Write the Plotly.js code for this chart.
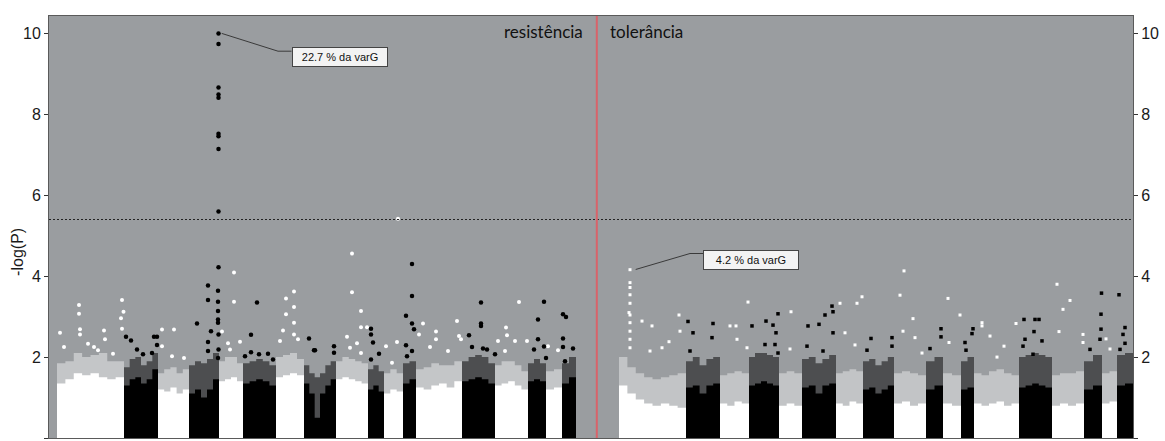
<!DOCTYPE html>
<html>
<head>
<meta charset="utf-8">
<script src="https://cdn.plot.ly/plotly-3.0.1.min.js"></script>
<style>html,body{margin:0;padding:0;background:#fff;}#chart{width:1165px;height:441px;}</style>
</head>
<body>
<div id="chart"></div>
<script>
// ---- chromosome boundaries (cumulative marker position) ----
const leftBounds  = [57,124,158,189,219,243,276,304,336,368,384,403,416,462,495,528,546,562,576];
const rightBounds = [619,686,720,749,779,802,836,863,894,926,943,961,974,1019,1052,1084,1102,1117,1133];

// dense core heights (-log P) sampled across each chromosome
const leftCore = [
  [1.35,1.45,1.6,1.55,1.6,1.5,1.45,1.5],[1.3,1.45,1.5,1.35,1.45,1.7],[1.2,1.15,1.25,1.1,1.2],
  [1.1,1.2,1.0,1.2,1.45],[1.4,1.45,1.5,1.4],[1.35,1.4,1.45,1.4,1.3],[1.5,1.55,1.6,1.55],
  [1.35,1.1,0.5,1.1,1.3,1.45],[1.45,1.5,1.45,1.4,1.35],[1.2,1.3,1.15],[1.1,1.2,1.15],[1.35,1.45],
  [1.25,1.2,1.3,1.35,1.25,1.4],[1.4,1.45,1.5,1.45,1.35],[1.3,1.35,1.4,1.3,1.2],[1.4,1.45,1.4],
  [1.2,1.25],[1.35,1.5]
];
const leftHalo = [
  [1.85,1.9,2.1,2.0,2.05,2.1,1.9,1.9],[1.75,1.95,2.0,1.8,1.9,2.1],[1.6,1.7,1.75,1.6,1.7],
  [1.8,1.9,1.85,1.95,2.1],[1.9,2.0,2.0,1.85],[1.85,1.9,1.95,1.9,1.8],[2.0,2.05,2.1,1.95],
  [1.8,1.6,1.5,1.6,1.8,1.9],[1.9,2.0,1.95,1.9,1.85],[1.7,1.8,1.65],[1.6,1.7,1.6],[1.85,1.9],
  [1.7,1.75,1.85,1.8,1.8,1.9],[1.9,2.0,2.05,2.0,1.85],[1.8,1.9,1.9,1.8,1.65],[1.85,1.95,1.85],
  [1.65,1.7],[1.85,2.0]
];
const rightCore = [
  [1.3,1.1,0.95,0.85,0.8,0.85,0.8,0.75],[1.25,1.3,1.1,1.3,1.35],[0.85,0.8,0.9,0.85],
  [1.3,1.35,1.4,1.35,1.3],[0.8,0.85,0.8],[1.25,1.3,1.1,1.3,1.35],[0.85,0.8,0.9,0.85],
  [1.2,1.25,1.1,1.2,1.3],[0.85,0.9,0.8,0.85],[1.2,1.3],[0.85,0.8],[1.2,1.25],
  [0.85,0.8,0.85,0.9,0.8,0.85],[1.25,1.3,1.35,1.3,1.25],[0.8,0.85,0.8,0.85],[1.2,1.3],
  [0.85,0.9],[1.3,1.35]
];
const rightHalo = [
  [2.0,1.75,1.6,1.5,1.45,1.5,1.55,1.6],[1.9,2.0,1.8,1.95,2.0],[1.55,1.6,1.65,1.6],
  [2.0,2.1,2.1,2.05,2.0],[1.6,1.65,1.6],[1.95,2.0,1.85,1.95,2.05],[1.6,1.65,1.7,1.65],
  [1.9,1.95,1.8,1.9,2.0],[1.6,1.65,1.6,1.55],[1.9,2.0],[1.6,1.55],[1.9,2.0],
  [1.6,1.55,1.65,1.7,1.6,1.55],[2.0,2.05,2.1,2.05,2.0],[1.55,1.6,1.6,1.65],[1.9,2.05],
  [1.6,1.65],[2.05,2.1]
];

// isolated markers above the dense cores
const leftWhiteX = [60,64,79,79,80,80,88,94,98,104,105,113,122,123.5,121,122, 162,174,172,162,184,
  234,234,222,228,240,230, 286,294,294,286,283,294,294,280,298, 352,352,361,361,367,347,357,350,361,
  398,397,386,392, 423,436,436,457,459,461,419,430,448, 519,506,498,507,515,505,527, 548,558];
const leftWhiteY = [2.6,2.25,3.29,3.07,2.69,2.56,2.33,2.25,2.17,2.66,2.44,2.08,3.41,3.12,2.96,2.7, 2.68,2.68,2.02,2.27,1.98,
  4.09,3.37,2.63,2.34,2.38,2.19, 3.45,3.62,3.24,3.06,2.66,2.85,2.56,2.4,2.44, 4.56,3.6,3.14,2.74,2.74,2.5,2.34,2.23,2.1,
  5.42,2.37,2.27,1.86, 2.83,2.63,2.44,2.89,2.52,2.44,2.56,2.25,2.15, 3.36,2.73,2.4,2.54,2.4,2.15,2.4, 2.27,2.17];
const leftBlackX = [126,131,137,143,154,157,152,157,
  218.5,218.5,218.5,218.5,218.5,218.5,218.5,218.5,218.5,218.5,208,208,197,211,208,208,218,218,218,218,218,218.5,218.5,218,
  257,251,251,245,259,268,273, 309,314,334,334,315, 371,371,373,379,371,
  412,412,406,412,414,406,412,407, 481,481,481,469,472,483,487,495, 544,538,538,534,544,546, 563,566,563,563,573,565];
const leftBlackY = [2.5,2.41,2.19,2.07,2.5,2.5,2.1,2.3,
  10.0,9.74,8.66,8.49,8.41,7.52,7.46,7.14,5.6,4.22,3.77,3.41,2.83,2.64,2.37,2.15,3.64,3.37,3.14,2.93,2.85,2.56,2.19,1.98,
  3.35,2.55,2.12,2.02,2.07,2.08,1.94, 2.46,2.17,2.27,2.11,2.17, 2.7,2.56,2.36,2.08,1.94,
  4.3,3.51,3.02,2.83,2.69,2.29,2.15,2.02, 3.35,2.83,2.77,2.54,2.25,2.21,2.19,2.07, 3.37,2.93,2.44,2.19,2.26,1.98, 3.06,2.99,2.46,2.25,2.21,1.9];
const rightWhiteX = [630,630,630,630,630,629,630,630,630,630,630,642,652,669,679,662,680,650,
  730,736,748,737,747, 791,790, 840,857,862,845,855, 904,900,913,903,915,922, 948,949,960,
  982,982,990,1004,1016,997, 1057,1070,1063,1059,1083,1083, 1110,1106];
const rightWhiteY = [4.16,3.84,3.72,3.54,3.33,3.1,3.04,2.85,2.64,2.44,2.23,2.89,2.77,2.38,3.04,2.23,2.64,2.15,
  2.77,2.77,3.36,2.44,2.23, 3.12,2.2, 3.33,3.33,3.49,2.6,2.3, 4.13,3.53,2.95,2.64,2.48,2.1, 3.45,2.36,3.04,
  2.85,2.77,2.52,2.27,2.83,2.0, 3.8,3.4,3.18,2.63,2.56,2.36, 2.2,2.45];
const rightBlackX = [688,713,690,712,693, 766,778,773,776,752,765,775,778, 832,825,819,808,807,833,833,823,
  867,871,892,892, 941,941,930, 973,972,965,966, 1024,1035,1039,1034,1025,1042,1033,1023,
  1101.5,1101,1101,1100,1090, 1119,1125,1123,1125,1120];
const rightBlackY = [2.88,2.83,2.15,2.48,2.6, 2.89,3.07,2.79,2.6,2.77,2.31,2.31,2.1, 3.26,3.04,2.81,2.77,2.27,3.12,2.6,2.15,
  2.17,2.46,2.48,2.27, 2.7,2.5,2.21, 2.7,2.58,2.36,2.17, 2.93,2.93,2.93,2.63,2.44,2.4,2.07,2.27,
  3.58,3.06,2.69,2.44,2.19, 3.54,2.73,2.56,2.34,2.19];

// reference lines and labels
const dividerX = 596.8;
const thresholdY = 5.4;
const yTicks = [0,2,4,6,8,10];
const panelLabels = ['resistência','tolerância'];
const qtlLabels = ['22.7 % da varG','4.2 % da varG'];
const qtlPeakX = [221.7, 635.7];
const qtlPeakY = [10.0, 4.165];
const qtlElbowX = [278, 690];
const qtlElbowY = [9.56, 4.56];
const qtlBoxX = [339.5, 751];
const qtlBoxY = [9.42, 4.395];

const GRAY = '#9a9da0';
const traces = [];

function stepTrace(x0, x1, heights, color) {
  const n = heights.length, xs = [], ys = [];
  for (let k = 0; k <= n; k++) {
    xs.push(x0 + (x1 - x0) * k / n);
    ys.push(heights[Math.min(k, n - 1)]);
  }
  return {x: xs, y: ys, mode: 'lines', line: {width: 0, shape: 'hv'}, fill: 'tozeroy',
          fillcolor: color, hoverinfo: 'skip', showlegend: false};
}

function addPanel(bounds, core, halo, whiteHaloA, blackHaloA) {
  for (let i = 0; i < core.length; i++) {
    const white = i % 2 === 0;
    traces.push(stepTrace(bounds[i], bounds[i+1], halo[i],
      white ? 'rgba(255,255,255,' + whiteHaloA + ')' : 'rgba(0,0,0,' + blackHaloA + ')'));
  }
  for (let i = 0; i < core.length; i++) {
    const white = i % 2 === 0;
    traces.push(stepTrace(bounds[i], bounds[i+1], core[i], white ? '#ffffff' : '#000000'));
  }
}
addPanel(leftBounds, leftCore, leftHalo, 0.42, 0.5);
addPanel(rightBounds, rightCore, rightHalo, 0.4, 0.5);

traces.push({x: leftWhiteX, y: leftWhiteY, mode: 'markers', marker: {color: '#fff', size: 4, symbol: 'circle', line: {width: 0}}, showlegend: false});
traces.push({x: leftBlackX, y: leftBlackY, mode: 'markers', marker: {color: '#000', size: 4.5, symbol: 'circle', line: {width: 0}}, showlegend: false});
traces.push({x: rightWhiteX, y: rightWhiteY, mode: 'markers', marker: {color: '#fff', size: 3, symbol: 'square', line: {width: 0}}, showlegend: false});
traces.push({x: rightBlackX, y: rightBlackY, mode: 'markers', marker: {color: '#000', size: 3.5, symbol: 'square', line: {width: 0}}, showlegend: false});

// leader lines for QTL labels
for (let i = 0; i < qtlLabels.length; i++) {
  traces.push({x: [qtlPeakX[i], qtlElbowX[i], qtlBoxX[i] - 48], y: [qtlPeakY[i], qtlElbowY[i], qtlElbowY[i]],
    mode: 'lines', line: {color: '#3a3a3a', width: 1}, hoverinfo: 'skip', showlegend: false});
}

// threshold line (on right axis so it is drawn)
traces.push({x: [49, 1133], y: [thresholdY, thresholdY], yaxis: 'y2', mode: 'lines',
  line: {color: '#222', width: 1, dash: '2px,2px'}, hoverinfo: 'skip', showlegend: false});

const tickFont = {family: 'Liberation Sans, Arial, sans-serif', size: 16, color: '#1a1a1a'};
const yRange = [0, 10.43];

const annotations = [
  {x: 585, y: 10.05, xref: 'x', yref: 'y', text: panelLabels[0], showarrow: false, xanchor: 'right', yanchor: 'middle',
   font: {family: 'Lato, sans-serif', size: 17, color: '#111'}},
  {x: 608, y: 10.05, xref: 'x', yref: 'y', text: panelLabels[1], showarrow: false, xanchor: 'left', yanchor: 'middle',
   font: {family: 'Lato, sans-serif', size: 17, color: '#111'}},
  {x: -0.0286, y: 4.6, xref: 'paper', yref: 'y', text: '-log(P)', textangle: -90, showarrow: false,
   xanchor: 'center', yanchor: 'middle', font: {family: 'Liberation Sans, Arial, sans-serif', size: 16, color: '#1a1a1a'}}
];
for (let i = 0; i < qtlLabels.length; i++) {
  annotations.push({x: qtlBoxX[i], y: qtlBoxY[i], xref: 'x', yref: 'y', text: qtlLabels[i], showarrow: false,
    width: 90, height: 14, bgcolor: '#f3f3f3', bordercolor: '#444', borderwidth: 1, borderpad: 2,
    xanchor: 'center', yanchor: 'middle', font: {family: 'Liberation Sans, Arial, sans-serif', size: 11, color: '#111'}});
}

const layout = {
  width: 1165, height: 441,
  margin: {l: 49, r: 32, t: 16, b: 3, pad: 0},
  paper_bgcolor: '#ffffff', plot_bgcolor: GRAY,
  showlegend: false,
  xaxis: {range: [49, 1133], showticklabels: false, ticks: '', showgrid: false, zeroline: false,
          showline: true, mirror: true, linecolor: '#5a5a5a', linewidth: 1, fixedrange: true},
  yaxis: {range: yRange, tickvals: yTicks, ticktext: yTicks.map(String), ticks: 'outside', ticklen: 4,
          tickcolor: '#333', tickfont: tickFont, showgrid: false, zeroline: false, showline: true,
          linecolor: '#5a5a5a', linewidth: 1, fixedrange: true},
  yaxis2: {range: yRange, overlaying: 'y', side: 'right', tickvals: yTicks, ticktext: yTicks.map(String),
           ticks: 'outside', ticklen: 4, tickcolor: '#333', tickfont: tickFont, showgrid: false, zeroline: false,
           showline: true, linecolor: '#5a5a5a', linewidth: 1, fixedrange: true},
  shapes: [
    {type: 'line', xref: 'x', yref: 'paper', x0: dividerX, x1: dividerX, y0: 0, y1: 1,
     line: {color: '#d9636a', width: 2}}
  ],
  annotations: annotations
};

Plotly.newPlot('chart', traces, layout, {staticPlot: true, displayModeBar: false});
</script>
</body>
</html>
